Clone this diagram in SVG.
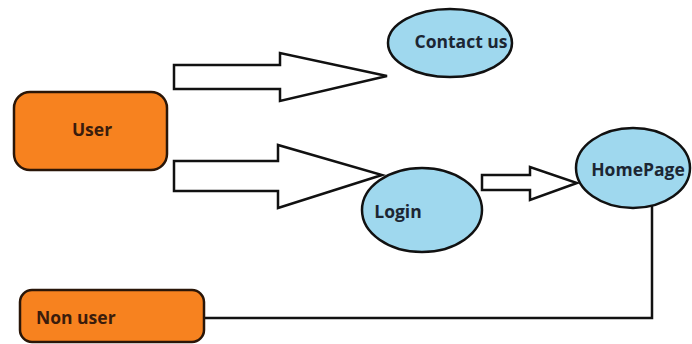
<svg xmlns="http://www.w3.org/2000/svg" width="692" height="344" viewBox="0 0 692 344">
<style>
.box{fill:#F7821F;stroke:#2a1608;stroke-width:2.5}
.ell{fill:#9FD8EE;stroke:#111;stroke-width:2.5}
.arr{fill:#fff;stroke:#111;stroke-width:2.5;stroke-linejoin:miter}
.line{fill:none;stroke:#111;stroke-width:2.5}
.t{font-family:"Open Sans","Liberation Sans",sans-serif;font-weight:bold;font-size:17.5px;fill:#1c2633}
.tu{font-family:"Open Sans","Liberation Sans",sans-serif;font-weight:bold;font-size:17.5px;fill:#3a1c0c}
</style>
<rect width="692" height="344" fill="#fff"/>
<g id="connectors">
<polygon class="arr" points="174,65 280,65 280,53 387,76 280,101 280,89 174,89"/>
<polygon class="arr" points="174,161 278,161 278,145 382,175 278,208 278,191 174,191"/>
<polygon class="arr" points="482,175 530,175 530,167 577,183 530,200 530,190 482,190"/>
<polyline class="line" points="652,206 652,318 205,318"/>
</g>
<g id="user">
<rect class="box" x="14" y="92" width="153" height="78" rx="16"/>
<text class="tu" x="92" y="136" text-anchor="middle">User</text>
</g>
<g id="nonuser">
<rect class="box" x="20" y="290" width="184" height="52" rx="12"/>
<text class="tu" x="36" y="324">Non user</text>
</g>
<g id="contactus">
<ellipse class="ell" cx="450" cy="43" rx="62" ry="34"/>
<text class="t" x="461" y="48" text-anchor="middle">Contact us</text>
</g>
<g id="login">
<ellipse class="ell" cx="422" cy="210" rx="60" ry="42"/>
<text class="t" x="398" y="218" text-anchor="middle">Login</text>
</g>
<g id="homepage">
<ellipse class="ell" cx="633" cy="168" rx="57" ry="40"/>
<text class="t" x="638" y="176" text-anchor="middle">HomePage</text>
</g>
</svg>
